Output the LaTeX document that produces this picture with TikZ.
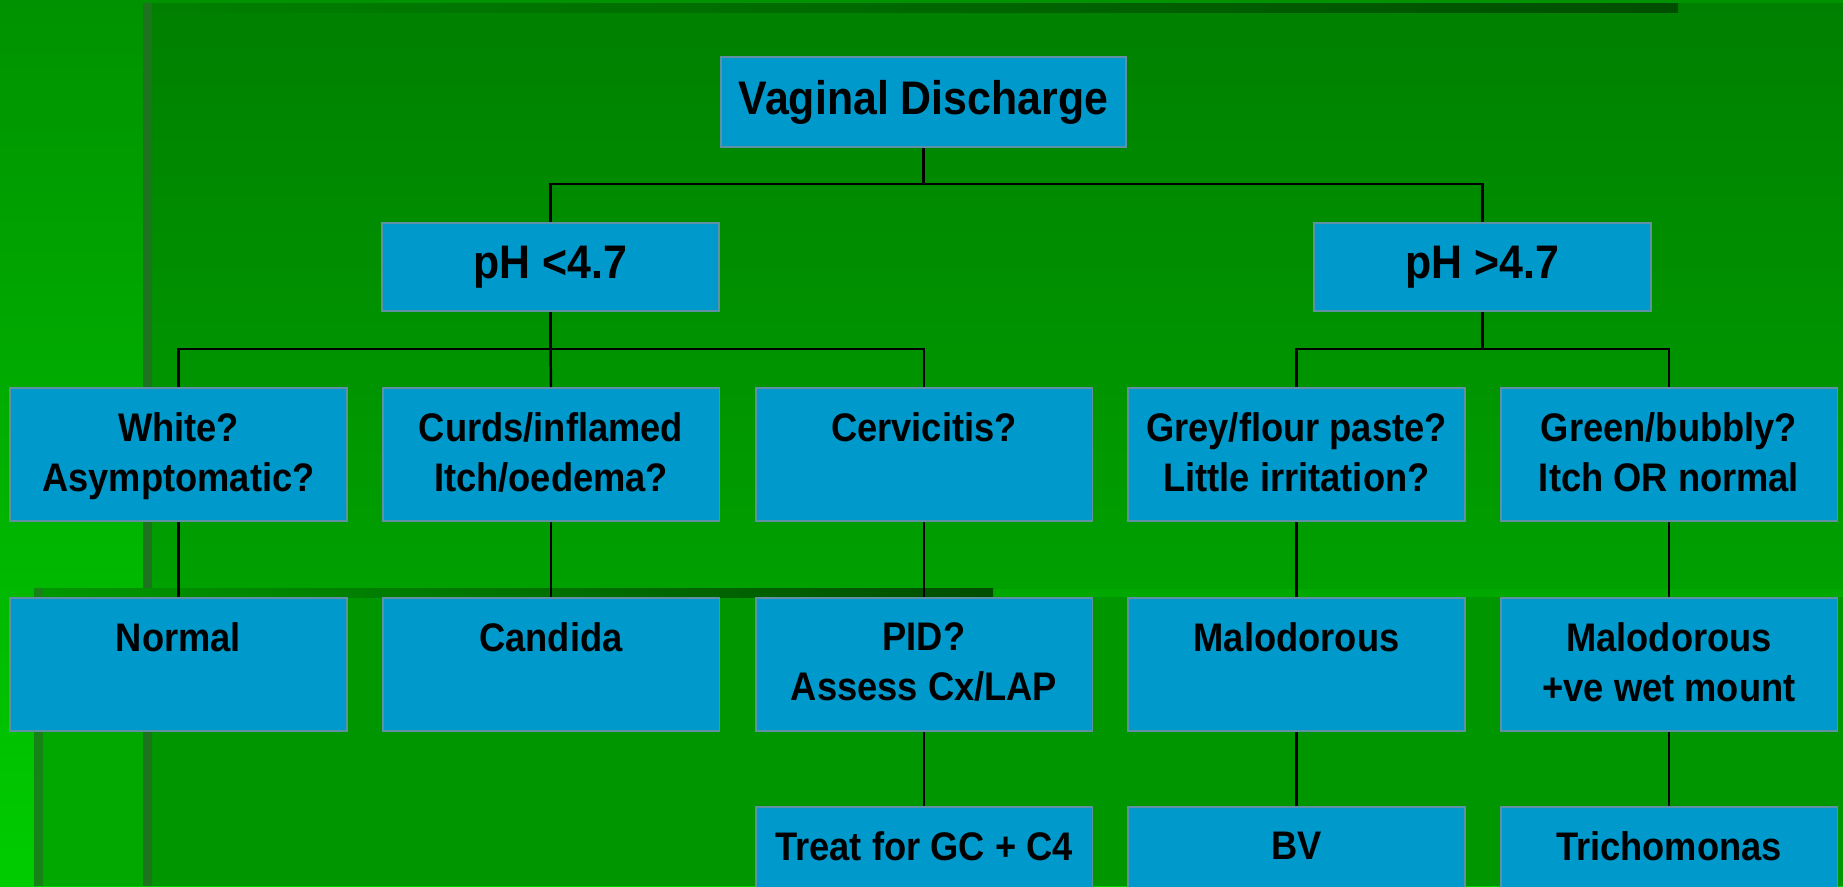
\documentclass[tikz,border=0pt]{standalone}
\usepackage{fontspec}
\setmainfont[FakeStretch=0.91]{Liberation Sans}
\usepackage{tikz}
\definecolor{boxfill}{RGB}{0,153,204}
\definecolor{boxedge}{RGB}{96,144,164}
\definecolor{outertop}{RGB}{0,146,0}
\definecolor{outerbot}{RGB}{0,204,0}
\definecolor{paneltop}{RGB}{0,128,0}
\definecolor{panelbot}{RGB}{0,160,0}
\definecolor{panellow}{RGB}{0,150,0}
\definecolor{backpanel}{RGB}{0,168,0}
\definecolor{bevel}{RGB}{30,115,30}
\definecolor{darkbar}{RGB}{0,78,0}
\def\outerbg{(0,0) rectangle (1843,886)}
\def\upperpanel{(143,3) rectangle (1843,588)}
\def\lowerpanel{(152,597) rectangle (1843,886)}

\begin{document}
\begin{tikzpicture}[x=0.02cm,y=-0.02cm,
    wire/.style={line width=1.4pt,black},
    tbox/.style={draw=boxedge,fill=boxfill,line width=1.1pt,inner sep=0pt},
    bigbox/.style={tbox,minimum width=8.1cm,minimum height=1.8cm,font=\fontsize{26.8pt}{32pt}\selectfont\bfseries},
    phbox/.style={tbox,minimum width=6.74cm,minimum height=1.76cm,font=\fontsize{26.8pt}{32pt}\selectfont\bfseries},
    box/.style={tbox,minimum width=6.74cm,minimum height=2.66cm,anchor=north},
    txt/.style={anchor=north,inner sep=0pt,yshift=-0.51cm,align=center,font=\fontsize{22.7pt}{28.35pt}\selectfont\bfseries}]
    \clip \outerbg;
    \shade[top color=outertop,bottom color=outerbot] \outerbg;
    \fill[backpanel] (34,588) rectangle (1843,886);
    \fill[bevel!70!backpanel] (34,588) rectangle (43,886);
    \shade[top color=paneltop,bottom color=panelbot] \upperpanel;
    \fill[panellow] \lowerpanel;
    \fill[bevel] (143,3) rectangle (152,886);
    \shade[left color=paneltop,right color=darkbar] (152,3) rectangle (1678,12);
    \shade[left color=backpanel!90!black,right color=darkbar] (43,588) rectangle (993,597);

    \node[bigbox] (vd) at (923.5,102) {Vaginal Discharge};
    \node[phbox] (lo) at (550.5,267) {pH <4.7};
    \node[phbox] (hi) at (1482.5,267) {pH >4.7};

    \node[box] (white) at (178.5,387) {};
    \node[box] (curds) at (551,387) {};
    \node[box] (cerv) at (924,387) {};
    \node[box] (grey) at (1296.5,387) {};
    \node[box] (green) at (1669,387) {};
    \node[txt] (whitet) at (white.north) {White?\\Asymptomatic?};
    \node[txt] (curdst) at (curds.north) {Curds/inflamed\\Itch/oedema?};
    \node[txt] (cervt) at (cerv.north) {Cervicitis?};
    \node[txt] (greyt) at (grey.north) {Grey/flour paste?\\Little irritation?};
    \node[txt] (greent) at (green.north) {Green/bubbly?\\Itch OR normal};

    \node[box] (normal) at (178.5,597) {};
    \node[box] (candida) at (551,597) {};
    \node[box] (pid) at (924,597) {};
    \node[box] (malbv) at (1296.5,597) {};
    \node[box] (maltv) at (1669,597) {};
    \node[txt] (normalt) at (normal.north) {Normal};
    \node[txt] (candidat) at (candida.north) {Candida};
    \node[txt] (pidt) at (pid.north) {PID?\\Assess Cx/LAP};
    \node[txt] (malbvt) at (malbv.north) {Malodorous};
    \node[txt] (maltvt) at (maltv.north) {Malodorous\\+ve wet mount};

    \node[box] (gc) at (924,806) {};
    \node[box] (bv) at (1296.5,806) {};
    \node[box] (trich) at (1669,806) {};
    \node[txt] (gct) at (gc.north) {Treat for GC + C4};
    \node[txt] (bvt) at (bv.north) {BV};
    \node[txt] (tricht) at (trich.north) {Trichomonas};

    \coordinate (j1) at (923.5,184);
    \coordinate (j2) at (550.5,349);
    \coordinate (j3) at (1482.5,349);
    \draw[wire] (vd.south) -- (j1);
    \draw[wire] (lo.north) |- (j1) -| (hi.north);
    \draw[wire] (lo.south) -- (j2);
    \draw[wire] (white.north) |- (j2) -| (cerv.north);
    \draw[wire] (j2) -- (curds.north);
    \draw[wire] (hi.south) -- (j3);
    \draw[wire] (grey.north) |- (j3) -| (green.north);
    \draw[wire] (white.south) -- (normal.north);
    \draw[wire] (curds.south) -- (candida.north);
    \draw[wire] (cerv.south) -- (pid.north);
    \draw[wire] (grey.south) -- (malbv.north);
    \draw[wire] (green.south) -- (maltv.north);
    \draw[wire] (pid.south) -- (gc.north);
    \draw[wire] (malbv.south) -- (bv.north);
    \draw[wire] (maltv.south) -- (trich.north);
\end{tikzpicture}
\end{document}
